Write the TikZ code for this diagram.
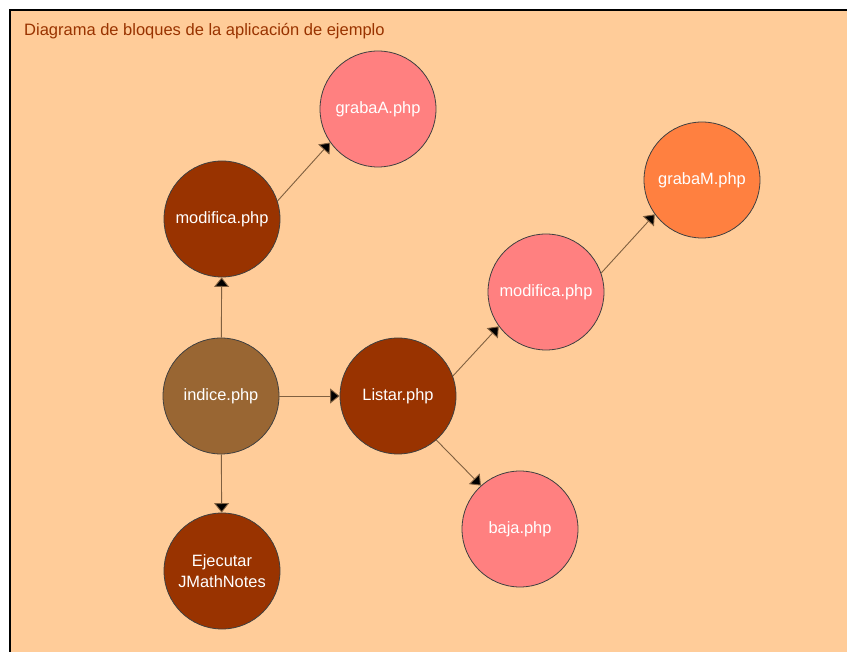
\documentclass[tikz,border=0pt]{standalone}
\usepackage{fontspec}
\setmainfont{Liberation Sans}
\usetikzlibrary{arrows.meta}
\definecolor{bg}{HTML}{FFCC99}
\definecolor{rust}{HTML}{993300}
\definecolor{tan}{HTML}{996633}
\definecolor{pinkc}{HTML}{FF8080}
\definecolor{orangec}{HTML}{FF8040}
\definecolor{linec}{HTML}{806040}
\begin{document}
\begin{tikzpicture}[x=1pt,y=-1pt,
  blob/.style={circle,draw=black!75,line width=0.8pt,minimum size=116pt,inner sep=0pt,
     text=white,font=\fontsize{16.4}{21}\selectfont,align=center},
  conn/.style={draw=linec,line width=0.9pt,-{Triangle[length=9.5pt,width=15pt,fill=black]}}]
\useasboundingbox (0,0) rectangle (847,652);
\fill[white] (0,0) rectangle (847,652);
\fill[bg] (10,10) rectangle (847,652);
\draw[black,line width=2pt] (10,652) -- (10,10) -- (847,10);
\node[anchor=base west,text=rust,font=\fontsize{16.5}{19}\selectfont,inner sep=0pt] (title) at (24,36) {Diagrama de bloques de la aplicación de ejemplo};
\node[blob,fill=pinkc] (grabaA) at (378,109) {grabaA.php};
\node[blob,fill=rust] (modA) at (222,219) {modifica.php};
\node[blob,fill=tan] (indice) at (221,396) {indice.php};
\node[blob,fill=rust] (ejec) at (222,571) {Ejecutar\\JMathNotes};
\node[blob,fill=rust] (listar) at (398,396) {Listar.php};
\node[blob,fill=pinkc] (modM) at (546,292) {modifica.php};
\node[blob,fill=orangec] (grabaM) at (702,180) {grabaM.php};
\node[blob,fill=pinkc] (baja) at (520,529) {baja.php};
\draw[conn] (indice) -- (modA);
\draw[conn] (indice) -- (ejec);
\draw[conn] (indice) -- (listar);
\draw[conn] (modA.18) -- (grabaA.215);
\draw[conn] (listar.20) -- (modM.216);
\draw[conn] (listar.311) -- (baja.132);
\draw[conn] (modM.19) -- (grabaM.216);
\end{tikzpicture}
\end{document}
